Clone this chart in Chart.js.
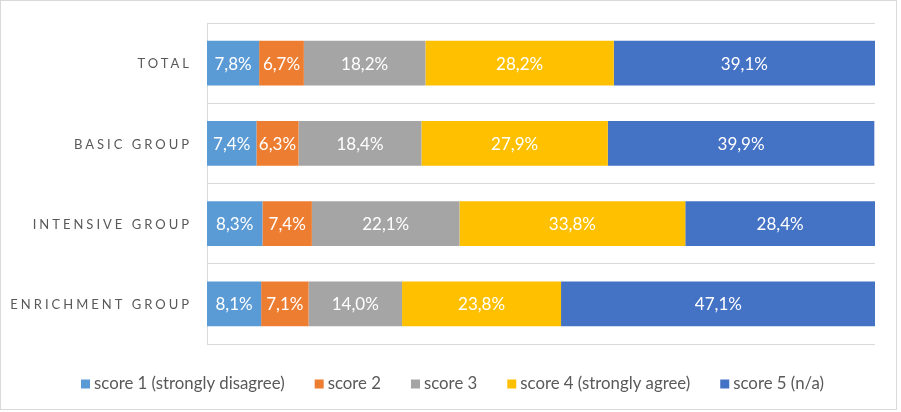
<!DOCTYPE html>
<html>
<head>
<meta charset="utf-8">
<script src="https://cdn.jsdelivr.net/npm/chart.js@4/dist/chart.umd.min.js"></script>
<style>
  html, body { margin: 0; padding: 0; background: #fff; }
  #wrap { width: 901px; height: 412px; position: relative; }
</style>
</head>
<body>
<div id="wrap"><canvas id="chart"></canvas></div>
<script>
const CATEGORIES = ["TOTAL", "BASIC GROUP", "INTENSIVE GROUP", "ENRICHMENT GROUP"];
const SERIES_NAMES = ["score 1 (strongly disagree)", "score 2", "score 3", "score 4 (strongly agree)", "score 5 (n/a)"];
const SCORE_1 = [7.8, 7.4, 8.3, 8.1];
const SCORE_2 = [6.7, 6.3, 7.4, 7.1];
const SCORE_3 = [18.2, 18.4, 22.1, 14.0];
const SCORE_4 = [28.2, 27.9, 33.8, 23.8];
const SCORE_5 = [39.1, 39.9, 28.4, 47.1];
const COLORS = ["#5B9BD5", "#ED7D31", "#A5A5A5", "#FFC000", "#4472C4"];

const TEXT_COLOR = "#595959";
const LINE_COLOR = "#d9d9d9";

function fmtPct(v) {
  return v.toFixed(1).replace(".", ",") + "%";
}

// chart frame, category labels (letter spaced), value labels, legend
const decorPlugin = {
  id: "decor",
  beforeDraw(chart) {
    const ctx = chart.ctx;
    ctx.save();
    ctx.strokeStyle = LINE_COLOR;
    ctx.lineWidth = 1;
    ctx.strokeRect(0.5, 0.5, 896, 409);
    ctx.restore();
  },
  afterDatasetsDraw(chart) {
    const ctx = chart.ctx;
    ctx.save();
    ctx.font = "17px Lato";
    ctx.fillStyle = "#ffffff";
    ctx.textAlign = "center";
    ctx.textBaseline = "middle";
    chart.data.datasets.forEach((ds, di) => {
      const meta = chart.getDatasetMeta(di);
      meta.data.forEach((bar, i) => {
        const cx = (bar.x + bar.base) / 2;
        ctx.fillText(fmtPct(ds.data[i]), cx, bar.y + 1);
      });
    });
    ctx.restore();
  },
  afterDraw(chart) {
    const ctx = chart.ctx;
    const yScale = chart.scales.y;
    ctx.save();
    // category labels
    ctx.font = "13px Lato";
    ctx.fillStyle = TEXT_COLOR;
    ctx.textAlign = "right";
    ctx.textBaseline = "middle";
    ctx.letterSpacing = "3px";
    CATEGORIES.forEach((c, i) => {
      ctx.fillText(c, 192, yScale.getPixelForValue(i) + 1);
    });
    ctx.letterSpacing = "0px";

    // legend
    ctx.font = "16.8px Lato";
    ctx.textAlign = "left";
    const box = 9, gapBox = 4, gapItem = 30;
    const widths = chart.data.datasets.map((ds) => box + gapBox + ctx.measureText(ds.label).width);
    const total = widths.reduce((a, w) => a + w, 0) + gapItem * (widths.length - 1);
    let x = (897 - total) / 2 + 4;
    const ly = 384;
    chart.data.datasets.forEach((ds, i) => {
      ctx.fillStyle = ds.backgroundColor;
      ctx.fillRect(x, ly - box / 2, box, box);
      ctx.fillStyle = TEXT_COLOR;
      ctx.fillText(ds.label, x + box + gapBox, ly);
      x += widths[i] + gapItem;
    });
    ctx.restore();
  },
};

const seriesData = [SCORE_1, SCORE_2, SCORE_3, SCORE_4, SCORE_5];

new Chart(document.getElementById("chart"), {
  type: "bar",
  data: {
    labels: CATEGORIES,
    datasets: SERIES_NAMES.map((name, i) => ({
      label: name,
      data: seriesData[i],
      backgroundColor: COLORS[i],
      borderWidth: 0,
      barPercentage: 0.555,
      categoryPercentage: 1,
    })),
  },
  options: {
    indexAxis: "y",
    responsive: true,
    maintainAspectRatio: false,
    animation: false,
    layout: { padding: { top: 23, right: 26, bottom: 68, left: 0 } },
    scales: {
      x: { stacked: true, min: 0, max: 100, display: false },
      y: {
        stacked: true,
        ticks: { display: false },
        grid: { color: LINE_COLOR, drawTicks: false, offset: true },
        border: { color: LINE_COLOR },
        afterFit(scale) { scale.width = 207; },
      },
    },
    plugins: { legend: { display: false }, tooltip: { enabled: false } },
  },
  plugins: [decorPlugin],
});
</script>
</body>
</html>
